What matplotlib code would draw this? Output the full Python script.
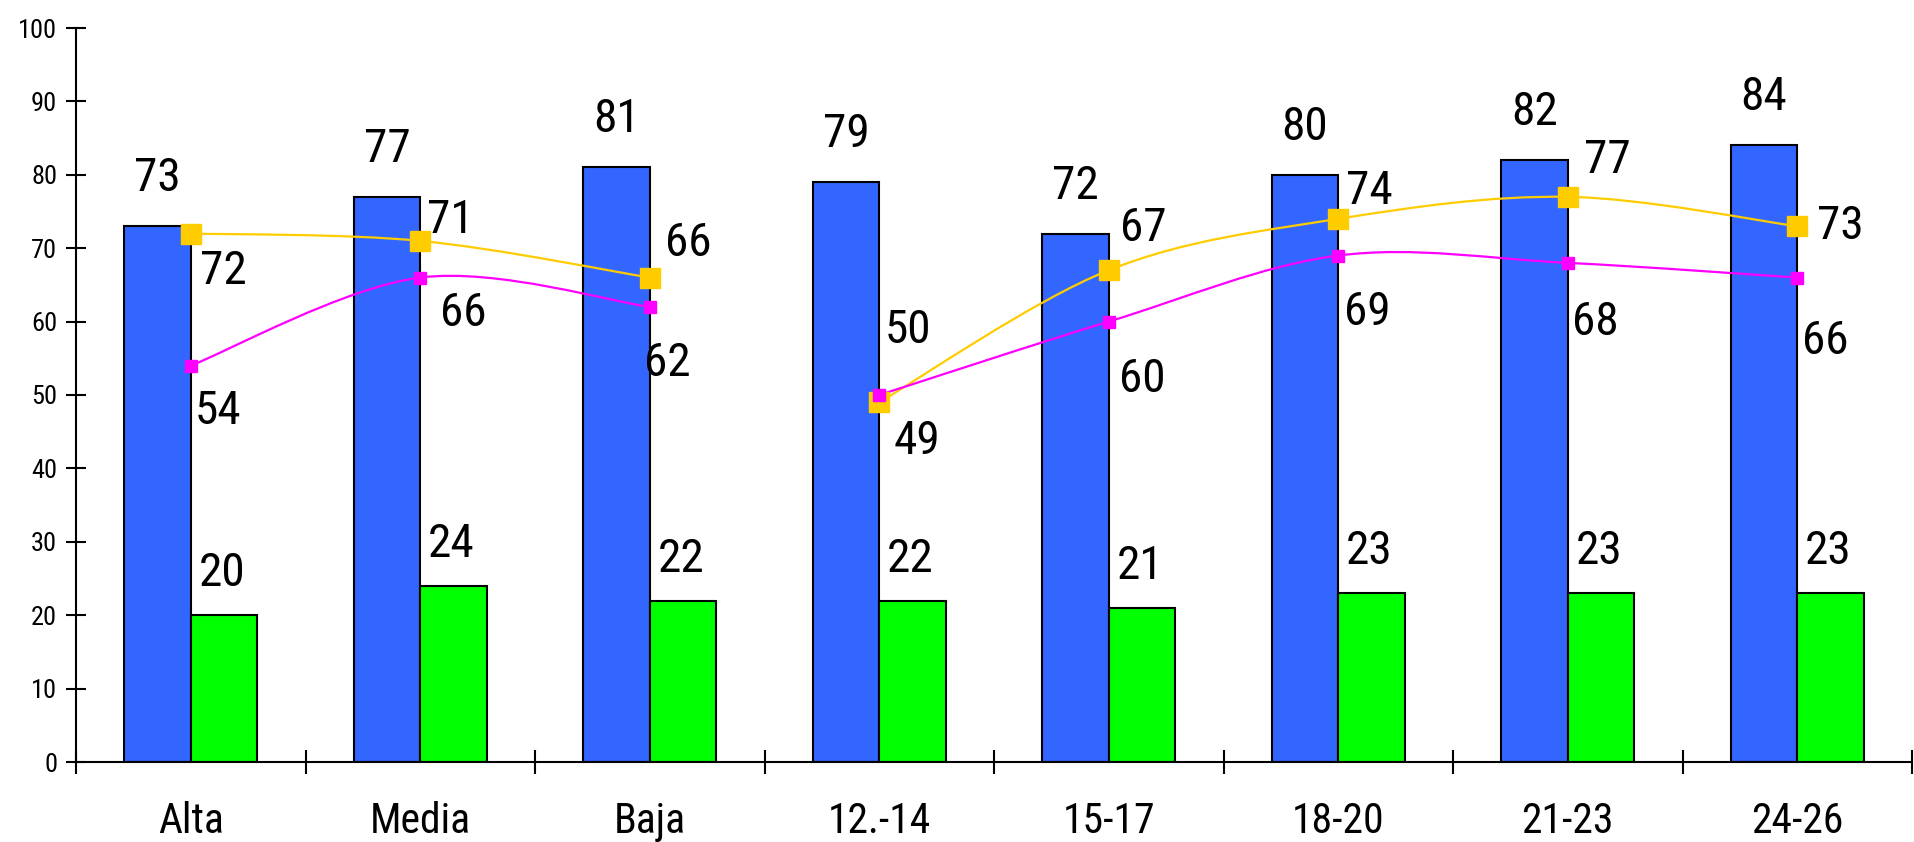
import numpy as np
import matplotlib.pyplot as plt
from matplotlib.path import Path
from matplotlib.patches import PathPatch

# 1. data
categories = ['Alta', 'Media', 'Baja', '12.-14', '15-17', '18-20', '21-23', '24-26']
blue_vals = [73, 77, 81, 79, 72, 80, 82, 84]
green_vals = [20, 24, 22, 22, 21, 23, 23, 23]
yellow_vals = [72, 71, 66, 49, 67, 74, 77, 73]
magenta_vals = [54, 66, 62, 50, 60, 69, 68, 66]
groups = [(0, 3), (3, 8)]  # lines are broken between the two groups

# label offsets in pixels (dx, dy) for the line labels
yellow_off = [(33, -37), (30, 21), (38, 35), (38, -39), (35, 42), (31, 28), (40, 37), (43, 0)]
magenta_off = [(27, -45), (43, -35), (18, -56), (29, 65), (34, -57), (29, -56), (28, -59), (28, -63)]

plt.rcParams['font.family'] = ['Roboto Condensed', 'DejaVu Sans']


def smooth_path(xs, ys, t=1 / 6):
    # excel-like smoothed line: cubic bezier through the points
    pts = np.column_stack([xs, ys]).astype(float)
    n = len(pts)
    verts = [pts[0]]
    codes = [Path.MOVETO]
    for i in range(n - 1):
        p0 = pts[i - 1] if i > 0 else pts[i]
        p1 = pts[i]
        p2 = pts[i + 1]
        p3 = pts[i + 2] if i + 2 < n else pts[i + 1]
        c1 = p1 + (p2 - p0) * t
        c2 = p2 - (p3 - p1) * t
        verts += [c1, c2, p2]
        codes += [Path.CURVE4] * 3
    return Path(verts, codes)


fig = plt.figure(figsize=(19.14, 8.42), dpi=100)
ax = fig.add_axes([76 / 1914, 80 / 842, 1836 / 1914, 734 / 842])

x = np.arange(len(categories))
w = 0.29
ax.bar(x - w / 2, blue_vals, w, color='#3366FF', edgecolor='black', linewidth=1.5, zorder=2)
ax.bar(x + w / 2, green_vals, w, color='#00FF00', edgecolor='black', linewidth=1.5, zorder=2)

for a, b in groups:
    ax.add_patch(PathPatch(smooth_path(x[a:b], yellow_vals[a:b]), fill=False,
                           edgecolor='#FFCC00', lw=1.6, zorder=3))
    ax.add_patch(PathPatch(smooth_path(x[a:b], magenta_vals[a:b]), fill=False,
                           edgecolor='#FF00FF', lw=1.6, zorder=3))
ax.plot(x, yellow_vals, linestyle='none', marker='s', markersize=14.5, color='#FFCC00', zorder=4)
ax.plot(x, magenta_vals, linestyle='none', marker='s', markersize=8.5, color='#FF00FF', zorder=5)

fs = 34
for i in range(len(categories)):
    ax.annotate(str(blue_vals[i]), (x[i] - w / 2, blue_vals[i]), xytext=(0, 48),
                textcoords='offset pixels', ha='center', va='center', fontsize=fs)
    ax.annotate(str(green_vals[i]), (x[i] + w / 2, green_vals[i]), xytext=(-2, 42),
                textcoords='offset pixels', ha='center', va='center', fontsize=fs)
    ax.annotate(str(yellow_vals[i]), (x[i], yellow_vals[i]), xytext=yellow_off[i],
                textcoords='offset pixels', ha='center', va='center', fontsize=fs)
    ax.annotate(str(magenta_vals[i]), (x[i], magenta_vals[i]), xytext=magenta_off[i],
                textcoords='offset pixels', ha='center', va='center', fontsize=fs)

ax.set_xlim(-0.5, len(categories) - 0.5)
ax.set_ylim(0, 100)
ax.set_yticks(range(0, 101, 10))
ax.set_xticks(np.arange(-0.5, len(categories), 1.0))
ax.set_xticklabels([])
ax.set_xticks(x, minor=True)
ax.set_xticklabels(categories, minor=True, fontsize=30)
ax.tick_params(axis='x', which='minor', length=0, pad=28)
ax.tick_params(axis='x', which='major', direction='inout', length=17, width=1.5)
ax.tick_params(axis='y', direction='inout', length=15, width=1.5, labelsize=19, pad=6)

for s in ['top', 'right']:
    ax.spines[s].set_visible(False)
for s in ['left', 'bottom']:
    ax.spines[s].set_linewidth(1.5)
ax.spines['bottom'].set_zorder(6)

fig.savefig('out.png', dpi=100)
